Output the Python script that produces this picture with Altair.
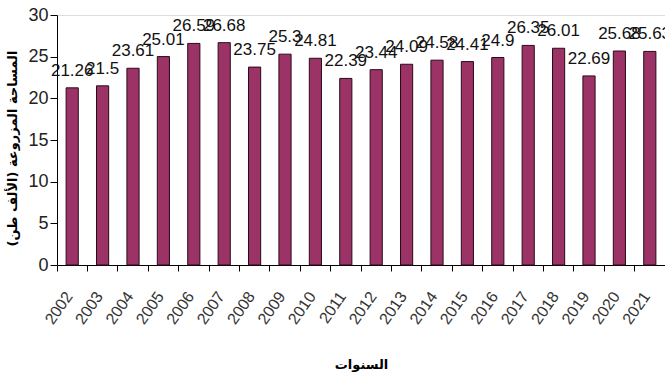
import altair as alt
import pandas as pd

years = [str(y) for y in range(2002, 2022)]
values = [21.26, 21.5, 23.61, 25.01, 26.59, 26.68, 23.75, 25.3, 24.81, 22.39,
          23.44, 24.09, 24.58, 24.41, 24.9, 26.35, 26.01, 22.69, 25.68, 25.63]
y_title = "المساحة المزروعة (الألف طن)"
x_title = "السنوات"

df = pd.DataFrame({"year": years, "value": values})

FONT = "Liberation Sans, Arial, sans-serif"

x_enc = alt.X(
    "year:N",
    sort=years,
    scale=alt.Scale(paddingInner=0, paddingOuter=0),
    axis=alt.Axis(
        title=x_title,
        titleFont="DejaVu Sans",
        titleFontSize=13,
        titleFontWeight="bold",
        titleColor="#000",
        titleY=99,
        titleBaseline="middle",
        labelAngle=-55,
        labelAlign="right",
        labelBaseline="middle",
        labelFont=FONT,
        labelFontSize=16,
        labelColor="#333",
        labelOffset=-3,
        labelPadding=22,
        bandPosition=0,
        tickSize=6,
        tickColor="#000",
        domainColor="#000",
        labelOverlap=False,
        grid=False,
    ),
)

bars = alt.Chart(df).mark_bar(
    width={"band": 0.4},
    color="#9b3366",
    stroke="#2a0a18",
    strokeWidth=1,
).encode(
    x=x_enc,
    y=alt.Y(
        "value:Q",
        scale=alt.Scale(domain=[0, 30], nice=False),
        axis=alt.Axis(
            title=y_title,
            titleFont="DejaVu Sans",
            titleFontSize=13,
            titleFontWeight="bold",
            titleColor="#000",
            titleX=-45,
            titleY=133,
            titleBaseline="middle",
            values=[0, 5, 10, 15, 20, 25, 30],
            labelFont=FONT,
            labelFontSize=18,
            labelColor="#222",
            tickSize=7,
            tickColor="#000",
            domainColor="#000",
            labelPadding=2,
            grid=False,
        ),
    ),
)

labels = alt.Chart(df).mark_text(
    font=FONT,
    fontSize=17,
    color="#111",
    baseline="alphabetic",
    dy=-12,
).encode(
    x=alt.X("year:N", sort=years, bandPosition=0.5),
    y="value:Q",
    text=alt.Text("value:Q"),
)

chart = (
    alt.layer(bars, labels)
    .properties(
        width=608,
        height=250,
        autosize=alt.AutoSizeParams(type="none"),
        padding={"left": 57, "top": 15, "right": 0, "bottom": 116},
    )
    .configure_view(stroke=None)
    .configure(background="white")
)

chart.save("out.html", embed_options={"renderer": "svg", "actions": False})
